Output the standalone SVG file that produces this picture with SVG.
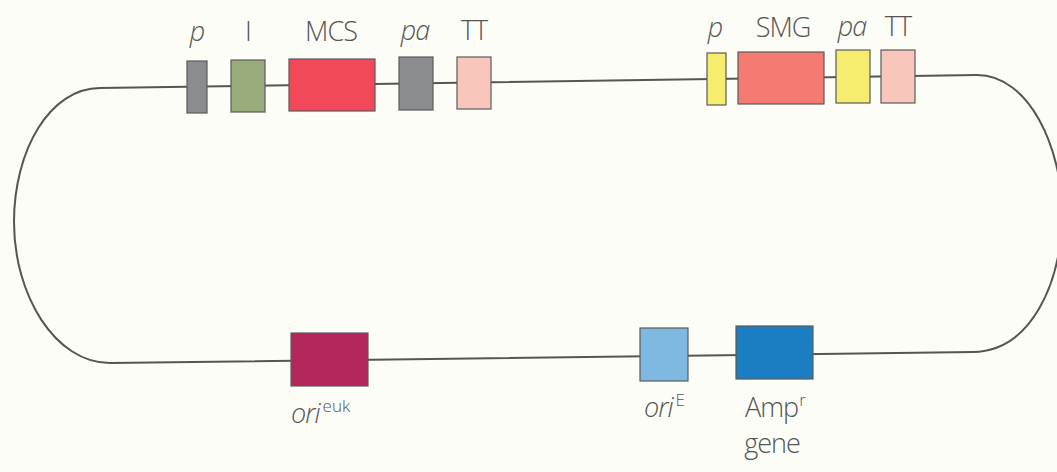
<svg xmlns="http://www.w3.org/2000/svg" width="1057" height="472" viewBox="0 0 1057 472">
  <style>
    .bg { fill: #fdfdf8; }
    .backbone { fill: none; stroke: #555555; stroke-width: 2; }
    .box { stroke: #5a5a5a; stroke-width: 1.2; }
    .lbl { font-family: "Open Sans", "Liberation Sans", sans-serif; font-size: 27px; font-weight: 300; letter-spacing: -1px; fill: #555555; }
    .it { font-style: italic; }
    .sup { font-size: 17px; letter-spacing: 0; }
  </style>
  <rect class="bg" x="0" y="0" width="1057" height="472"/>

  <!-- plasmid backbone -->
  <g id="connectors">
    <path class="backbone" d="M100,88 L977,75 C1030,75 1062,150 1062,212 C1062,285 1030,351 973,352 L110,363 C55,363 14,295 14,222 C14,150 50,88 100,88 Z"/>
  </g>

  <!-- upper cassette: cloning expression unit -->
  <g id="p1">
    <rect class="box" x="187" y="61" width="20" height="52" fill="#8b8c90"/>
    <text class="lbl it" x="197" y="41" text-anchor="middle">p</text>
  </g>
  <g id="intron">
    <rect class="box" x="231" y="60" width="34" height="52" fill="#9aab7e"/>
    <text class="lbl" x="248" y="41" text-anchor="middle">I</text>
  </g>
  <g id="mcs">
    <rect class="box" x="289" y="59" width="86" height="52" fill="#f2495a"/>
    <text class="lbl" x="331" y="41" text-anchor="middle">MCS</text>
  </g>
  <g id="pa1">
    <rect class="box" x="399" y="57" width="34" height="53" fill="#8b8c90"/>
    <text class="lbl it" x="415" y="40" text-anchor="middle">pa</text>
  </g>
  <g id="tt1">
    <rect class="box" x="457" y="57" width="34" height="52" fill="#f9c6bb"/>
    <text class="lbl" x="474" y="40" text-anchor="middle">TT</text>
  </g>

  <!-- upper cassette: selectable marker unit -->
  <g id="p2">
    <rect class="box" x="707" y="53" width="19" height="52" fill="#f6ec6e"/>
    <text class="lbl it" x="715" y="37" text-anchor="middle">p</text>
  </g>
  <g id="smg">
    <rect class="box" x="738" y="52" width="86" height="52" fill="#f57b72"/>
    <text class="lbl" x="783" y="37" text-anchor="middle">SMG</text>
  </g>
  <g id="pa2">
    <rect class="box" x="836" y="50" width="34" height="53" fill="#f6ec6e"/>
    <text class="lbl it" x="852" y="36" text-anchor="middle">pa</text>
  </g>
  <g id="tt2">
    <rect class="box" x="881" y="50" width="34" height="53" fill="#f9c6bb"/>
    <text class="lbl" x="898" y="36" text-anchor="middle">TT</text>
  </g>

  <!-- lower strand elements -->
  <g id="ori-euk">
    <rect class="box" x="291" y="333" width="77" height="53" fill="#b4275c"/>
    <text class="lbl" x="291" y="423"><tspan class="it">ori</tspan><tspan class="sup" dx="3" dy="-11">euk</tspan></text>
  </g>
  <g id="ori-e">
    <rect class="box" x="640" y="328" width="48" height="53" fill="#7fb9e2"/>
    <text class="lbl" x="644" y="417"><tspan class="it">ori</tspan><tspan class="sup" dx="3" dy="-11">E</tspan></text>
  </g>
  <g id="amp">
    <rect class="box" x="736" y="326" width="77" height="53" fill="#1b7ec2"/>
    <text class="lbl" x="745" y="417">Amp<tspan class="sup" dx="1" dy="-11">r</tspan></text>
    <text class="lbl" x="772" y="453" text-anchor="middle">gene</text>
  </g>
</svg>
